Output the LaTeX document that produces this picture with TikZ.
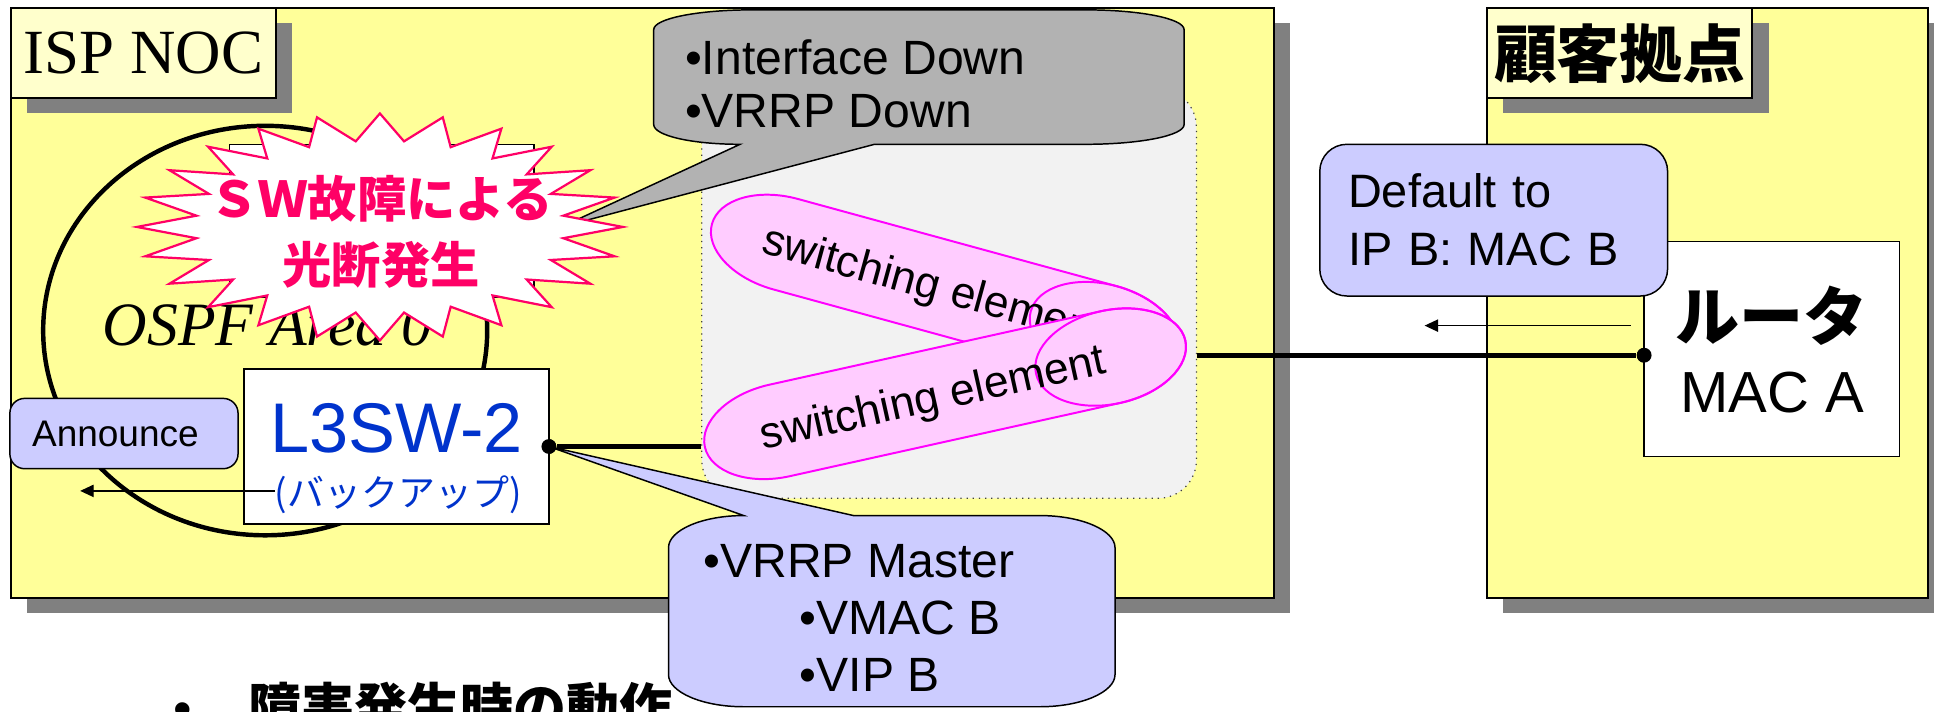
\documentclass[tikz,border=0pt]{standalone}
\usepackage{fontspec}
\setmainfont{Liberation Sans}
\newfontfamily\timesfont{Liberation Serif}
\newfontfamily\jpfont{Noto Sans CJK JP}
\usetikzlibrary{shadows,arrows.meta,calc}

\definecolor{areayellow}{HTML}{FFFF99}
\definecolor{tagyellow}{HTML}{FFFFCC}
\definecolor{shadowgray}{HTML}{808080}
\definecolor{lavender}{HTML}{CCCCFF}
\definecolor{calloutgray}{HTML}{B2B2B2}
\definecolor{panelgray}{HTML}{F2F2F2}
\definecolor{elempink}{HTML}{FFCCFF}
\definecolor{elemedge}{HTML}{FF00FF}
\definecolor{alertred}{HTML}{FF0066}
\definecolor{swblue}{HTML}{0033CC}

\newcommand{\fsz}[2]{\fontsize{#1}{#2}\selectfont}

\begin{document}
\begin{tikzpicture}[x=0.5pt, y=-0.5pt]
	\tikzstyle{area}=[draw, line width=0.8pt, fill=areayellow, anchor=north west, inner sep=0pt, general shadow={fill=shadowgray, shadow xshift=6.5pt, shadow yshift=-6pt}]
	\tikzstyle{tag}=[area, fill=tagyellow]
	\tikzstyle{whitebox}=[draw, line width=0.6pt, fill=white, inner sep=0pt]
	\tikzstyle{bluebox}=[draw, line width=0.6pt, fill=lavender, inner sep=0pt]
	\tikzstyle{panel}=[draw=black!75, dotted, line width=0.5pt, fill=panelgray, rounded corners=15.5pt, inner sep=0pt]
	\tikzstyle{elem}=[draw=elemedge, fill=elempink, line width=0.8pt]
	\tikzstyle{elemtext}=[transform shape, inner sep=0pt, font=\fsz{18}{18}]
	\tikzstyle{callout}=[draw, line width=0.6pt]
	\tikzstyle{burst}=[draw=alertred, fill=white, line width=0.9pt, line join=miter]
	\tikzstyle{dot}=[circle, fill, inner sep=0pt, minimum size=6pt]
	\tikzstyle{link}=[line width=2.1pt]
	\tikzstyle{msg}=[line width=0.6pt, -{Triangle[length=5.5pt, width=5pt]}]

	\useasboundingbox (0,0) rectangle (1568,577);
	\clip (0,0) rectangle (1568,577);
	\fill[white] (0,0) rectangle (1568,577);

	% the two sites
	\node[area, minimum width=512pt, minimum height=239pt] (noc) at (8,6) {};
	\node[area, minimum width=178.5pt, minimum height=239pt] (site) at (1205,6) {};
	\node[tag, minimum width=107.5pt, minimum height=36.5pt] (noctag) at (8,6) {\timesfont\fsz{25.5}{26}ISP NOC};
	\node[tag, minimum width=107.5pt, minimum height=36.5pt] (sitetag) at (1205,6) {\jpfont\bfseries\fsz{25.5}{26}顧客拠点};

	\draw[line width=1.8pt] (215,268) ellipse [x radius=90pt, y radius=83pt];
	\node[whitebox, minimum width=123.5pt, minimum height=62pt] (sw1) at (309.5,179) {};
	\node[anchor=base west, inner sep=0pt] (ospf) at (83,280) {\timesfont\itshape\fsz{25}{25}OSPF Area 0};

	\node[panel, minimum width=200.5pt, minimum height=166pt] (elements) at (769.5,238) {};

	% status balloon
	\filldraw[callout, fill=calloutgray] (610,8) -- (880,8) .. controls (924,8) and (960,15) .. (960,24)
		-- (960,101) .. controls (960,110) and (924,117) .. (880,117) -- (709,117) -- (455,184) -- (600,117)
		.. controls (561,117) and (530,110) .. (530,101) -- (530,24) .. controls (530,15) and (566,8) .. (610,8) -- cycle;
	\node[anchor=north west, inner sep=0pt, align=left, font=\fsz{19.5}{21.5}] (downtxt) at (555,32) {•Interface Down\\•VRRP Down};

	% failure burst
	\begin{scope}[shift={(308,184)}]
		\draw[burst] (0:197 and 92) \foreach \k in {1,...,47}{ -- ({7.5*\k}:{197-47*mod(\k,2)} and {92-22*mod(\k,2)}) } -- cycle;
	\end{scope}
	\node[align=center, inner sep=0pt, text=alertred, font=\jpfont\bfseries\fsz{20}{26.5}] (fault) at (309,188) {ＳＷ故障による\\光断発生};

	% switching elements
	\begin{scope}[shift={(637,198)}, rotate=-15.3]
		\filldraw[elem] (0,-38) -- (268,-38) arc[start angle=90, end angle=-90, x radius=31pt, y radius=19pt]
			-- (0,38) arc[start angle=270, end angle=90, x radius=31pt, y radius=19pt] -- cycle;
		\draw[elem, fill=none] (268,0) ellipse [x radius=31pt, y radius=19pt];
		\node[elemtext] (elemA) at (125,3) {switching element};
	\end{scope}
	\begin{scope}[shift={(632,349)}, rotate=12.5]
		\filldraw[elem] (0,-38) -- (275,-38) arc[start angle=90, end angle=-90, x radius=31pt, y radius=19pt]
			-- (0,38) arc[start angle=270, end angle=90, x radius=31pt, y radius=19pt] -- cycle;
		\draw[elem, fill=none] (275,0) ellipse [x radius=31pt, y radius=19pt];
		\node[elemtext] (elemB) at (127,3) {switching element};
	\end{scope}

	\node[dot] (sw2dot) at (445,362) {};
	\node[dot] (rtdot) at (1333,288) {};
	\draw[link] (sw2dot) -- (sw2dot -| elements.west);
	\draw[link] (elements.east |- rtdot) -- (rtdot);

	% backup switch
	\node[whitebox, minimum width=123.5pt, minimum height=63pt] (sw2) at (321.5,362) {};
	\node[inner sep=0pt, text=swblue, font=\fsz{28.5}{29}] (sw2name) at (321.5,347.5) {L3SW-2};
	\node[inner sep=0pt, text=swblue, font=\jpfont\fsz{15}{15}] (sw2role) at (323,401) {(バックアップ)};
	\node[bluebox, rounded corners=6pt, minimum height=28.5pt, text width=74.5pt, inner xsep=9pt, align=left, font=\fsz{15}{15}] (announce) at (100.5,351.5) {Announce};
	\coordinate (annfrom) at (223,398);
	\coordinate (annto) at (65,398);
	\draw[msg] (annfrom) -- (annto);

	% master balloon
	\filldraw[callout, fill=lavender] (603,418) -- (sw2dot.center) -- (692,418) -- (843,418) .. controls (877,418) and (904,430) .. (904,444)
		-- (904,547) .. controls (904,561) and (877,573) .. (843,573) -- (603,573)
		.. controls (569,573) and (542,561) .. (542,547) -- (542,444) .. controls (542,430) and (569,418) .. (603,418) -- cycle;
	\node[anchor=north west, inner sep=0pt, align=left, font=\fsz{19.5}{23}] (mastertxt) at (570,441) {•VRRP Master\\\hspace*{39pt}•VMAC B\\\hspace*{39pt}•VIP B};
	\node[dot] at (sw2dot) {};

	% customer router
	\node[whitebox, minimum width=103.5pt, minimum height=87pt] (router) at (1436.5,283) {};
	\node[inner sep=0pt, font=\jpfont\bfseries\fsz{26}{26}] (rtname) at (1436,256) {ルータ};
	\node[inner sep=0pt, font=\fsz{23.5}{24}] (rtmac) at (1437,318) {MAC A};
	\node[dot] at (rtdot) {};
	\node[bluebox, rounded corners=11pt, text width=118pt, inner xsep=11.5pt, minimum height=61.5pt, align=left, font=\fsz{19}{23.5}] (deflt) at (1211,178.5) {Default to\\IP B: MAC B};
	\coordinate (gwfrom) at (1322,264);
	\coordinate (gwto) at (1155,264);
	\draw[msg] (gwfrom) -- (gwto);

	\node[anchor=base west, inner sep=0pt, font=\fsz{21.5}{22}] (stepnote) at (140,590) {•\hspace{23pt}{\jpfont\bfseries 障害発生時の動作}};
\end{tikzpicture}
\end{document}
